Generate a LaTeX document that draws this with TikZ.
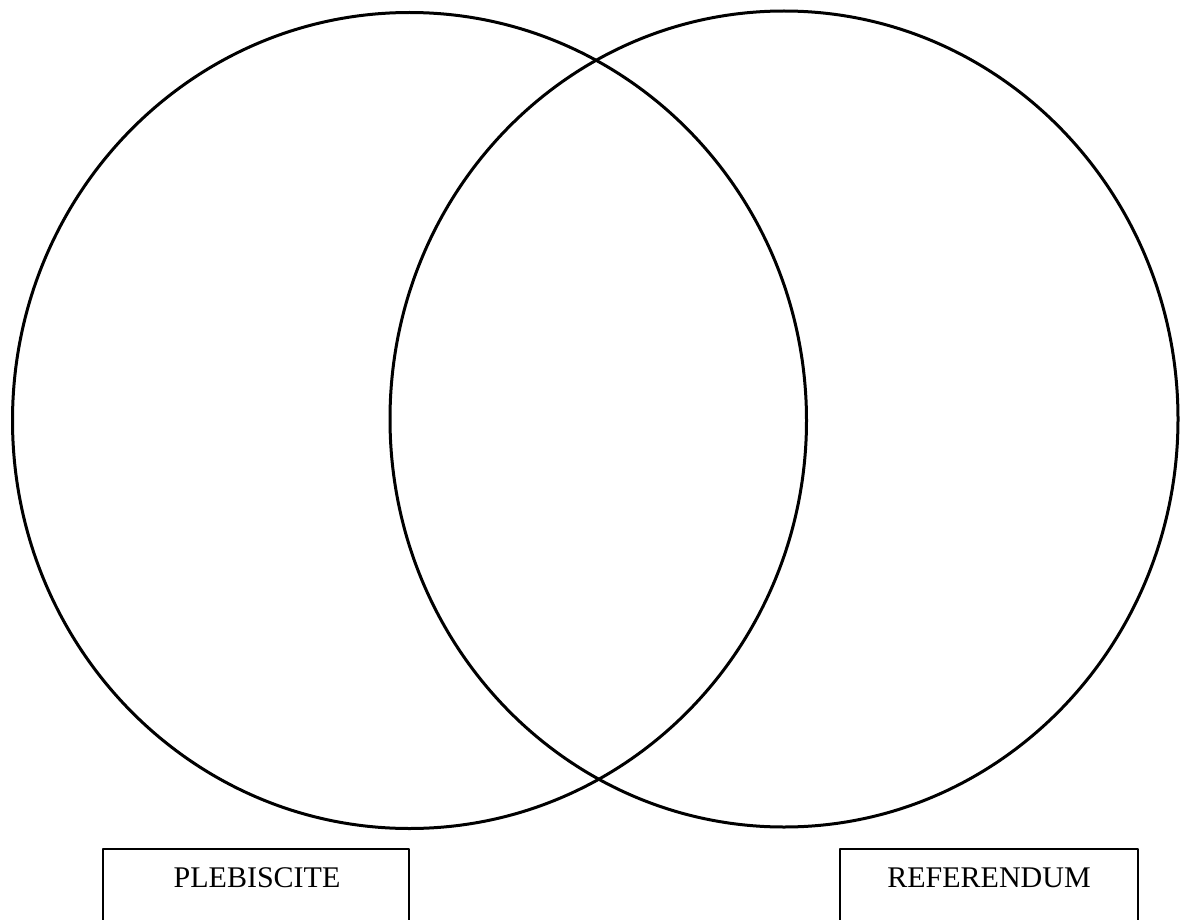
\documentclass[tikz,border=0pt]{standalone}
\usepackage{fontspec}
\setmainfont{Liberation Serif}
\begin{document}
\begin{tikzpicture}[x=0.5pt,y=-0.5pt,line join=round,line cap=round,
	ring/.style={line width=1.5pt},
	boxline/.style={line width=1pt},
	boxlabel/.style={font=\fontsize{15pt}{18pt}\selectfont,inner sep=0pt}]
		\useasboundingbox (0,0) rectangle (1183,920);
		\clip (0,0) rectangle (1183,920);
		\draw[ring] (409.5,420.5) ellipse [x radius=397, y radius=408];
		\draw[ring] (784,419) ellipse [x radius=394, y radius=408];
		\draw[boxline] (103,930) |- (409,849) -- (409,930);
		\draw[boxline] (840,930) |- (1138,849) -- (1138,930);
		\node[boxlabel] (pleb) at (257,878) {PLEBISCITE};
		\node[boxlabel] (refer) at (989,878) {REFERENDUM};
\end{tikzpicture}
\end{document}
